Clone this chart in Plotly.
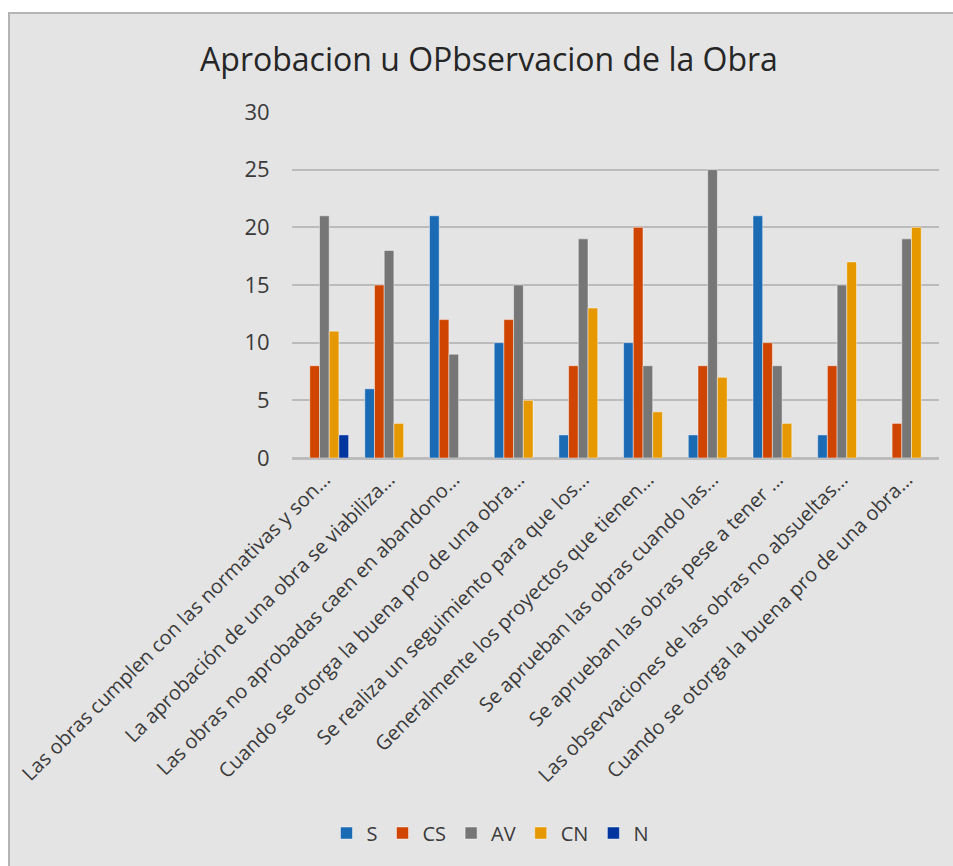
import plotly.graph_objects as go

categories = [
    "Las obras cumplen con las normativas y son…",
    "La aprobación de una obra se viabiliza…",
    "Las obras no aprobadas caen en abandono…",
    "Cuando se otorga la buena pro de una obra…",
    "Se realiza un seguimiento para que los…",
    "Generalmente los proyectos que tienen…",
    "Se aprueban las obras cuando las…",
    "Se aprueban las obras pese a tener …",
    "Las observaciones de las obras no absueltas…",
    "Cuando se otorga la buena pro de una obra…",
]
S = [0, 6, 21, 10, 2, 10, 2, 21, 2, 0]
CS = [8, 15, 12, 12, 8, 20, 8, 10, 8, 3]
AV = [21, 18, 9, 15, 19, 8, 25, 8, 15, 19]
CN = [11, 3, 0, 5, 13, 4, 7, 3, 17, 20]
N = [2, 0, 0, 0, 0, 0, 0, 0, 0, 0]
y_ticks = [0, 5, 10, 15, 20, 25, 30]

series = [("S", S, "#1B6AB4"), ("CS", CS, "#CF4500"), ("AV", AV, "#767676"),
          ("CN", CN, "#E59800"), ("N", N, "#0035A0")]

x_idx = list(range(len(categories)))
fig = go.Figure()
for name, vals, col in series:
    fig.add_trace(go.Bar(
        x=x_idx, y=[v if v != 0 else None for v in vals], name=name,
        marker=dict(color=col, line=dict(color="rgba(255,255,255,0.45)", width=1)),
    ))

W, H = 953, 866
L, R, T, B = 292, 14, 112, 408
pw, ph = W - L - R, H - T - B

def px_to_paper_x(px):
    return (px - L) / pw

def px_to_paper_y(py):
    return (H - B - py) / ph

fig.add_shape(type="rect", xref="paper", yref="paper", layer="below",
              x0=px_to_paper_x(9), x1=px_to_paper_x(975),
              y0=px_to_paper_y(890), y1=px_to_paper_y(13),
              fillcolor="#E4E4E4", line=dict(color="#B4B4B4", width=2))

font = "Open Sans, Segoe UI, sans-serif"
fig.update_layout(
    width=W, height=H,
    margin=dict(l=L, r=R, t=T, b=B, pad=0),
    paper_bgcolor="white", plot_bgcolor="rgba(0,0,0,0)",
    barmode="group", bargap=0.25, bargroupgap=0,
    title=dict(text="Aprobacion u OPbservacion de la Obra", x=489 / W, xanchor="center",
               y=1 - 60 / H, yanchor="middle", yref="container",
               font=dict(family=font, size=32, color="#262626")),
    font=dict(family=font, color="#3A3A3A"),
    showlegend=True,
    legend=dict(orientation="h", x=490 / W, xanchor="center", xref="container",
                y=1 - 833 / H, yanchor="middle", yref="container",
                font=dict(size=20, color="#3A3A3A"), bgcolor="rgba(0,0,0,0)",
                itemwidth=30, tracegroupgap=0),
    xaxis=dict(range=[-0.5, 9.5], tickmode="array", tickvals=x_idx, ticktext=categories,
               tickangle=-45, tickfont=dict(size=20, color="#3A3A3A"),
               showgrid=False, showline=True, linecolor="#BBBBBB", linewidth=2,
               ticks="", zeroline=False, automargin=False),
    yaxis=dict(range=[0, 30], tickmode="array", tickvals=y_ticks,
               tickfont=dict(size=22, color="#3A3A3A"),
               showgrid=True, gridcolor="#BBBBBB", gridwidth=2,
               zeroline=True, zerolinecolor="#BBBBBB", zerolinewidth=2,
               showline=False, ticks="outside", ticklen=17, tickcolor="rgba(0,0,0,0)",
               automargin=False),
)

fig.write_html(
    "out.html",
    config={"displayModeBar": False},
    post_script="document.body.style.margin='0';document.body.style.overflow='hidden';",
)
